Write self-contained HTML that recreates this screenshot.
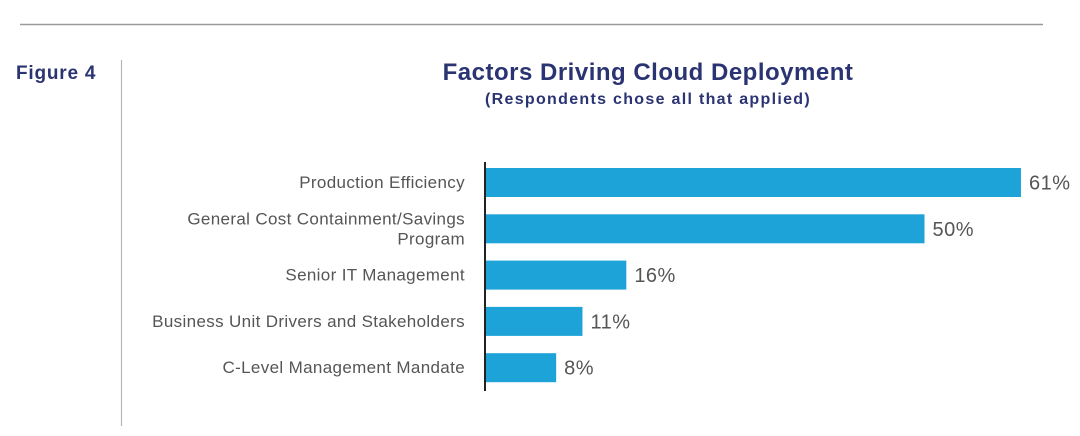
<!DOCTYPE html>
<html><head><meta charset="utf-8"><style>
html,body{margin:0;padding:0;background:#fff;width:1080px;height:436px;overflow:hidden;font-family:"Liberation Sans",sans-serif}
</style></head><body>
<svg width="1080" height="436" xmlns="http://www.w3.org/2000/svg">
<line x1="20" y1="24.5" x2="1043" y2="24.5" stroke="#9a9a9a" stroke-width="1.5"/>
<line x1="121.5" y1="60" x2="121.5" y2="426" stroke="#b5b5b5" stroke-width="1.2"/>
<text x="16" y="79" font-size="19" font-weight="bold" fill="#2b3472" letter-spacing="0.8">Figure 4</text>
<text x="648" y="80" font-size="24" font-weight="bold" fill="#2b3472" text-anchor="middle" letter-spacing="0.5">Factors Driving Cloud Deployment</text>
<text x="648" y="104" font-size="16" font-weight="bold" fill="#2b3472" text-anchor="middle" letter-spacing="1.3">(Respondents chose all that applied)</text>
<g id="bars"></g>
<line x1="485" y1="162" x2="485" y2="391" stroke="#222" stroke-width="2"/>
</svg>
<script>
const categories=[["Production Efficiency"],["General Cost Containment/Savings","Program"],["Senior IT Management"],["Business Unit Drivers and Stakeholders"],["C-Level Management Mandate"]];
const values=[61,50,16,11,8];
const valueLabels=["61%","50%","16%","11%","8%"];
const NS="http://www.w3.org/2000/svg";
const g=document.getElementById("bars");
const x=v=>486+v*8.77;
const yc=i=>182.5+i*46.3;
values.forEach((v,i)=>{
 const r=document.createElementNS(NS,"rect");
 r.setAttribute("x",486);r.setAttribute("y",yc(i)-14.5);
 r.setAttribute("width",x(v)-486);r.setAttribute("height",29);
 r.setAttribute("fill","#1ea3d9");
 
 
 g.appendChild(r);
 const t=document.createElementNS(NS,"text");
 t.setAttribute("x",x(v)+8);t.setAttribute("y",yc(i)+7);
 t.setAttribute("font-size","20");t.setAttribute("fill","#555");
 t.setAttribute("letter-spacing","0.5");
 t.textContent=valueLabels[i];
 
 
 g.appendChild(t);
 const lines=categories[i];
 lines.forEach((ln,j)=>{
  const c=document.createElementNS(NS,"text");
  c.setAttribute("x",465);
  c.setAttribute("y",yc(i)+5.5+(j-(lines.length-1)/2)*20);
  c.setAttribute("font-size","17");c.setAttribute("fill","#555");
  c.setAttribute("letter-spacing","0.35");
  c.setAttribute("text-anchor","end");
  c.textContent=ln;
  
  
  g.appendChild(c);
 });
});
</script>
</body></html>
